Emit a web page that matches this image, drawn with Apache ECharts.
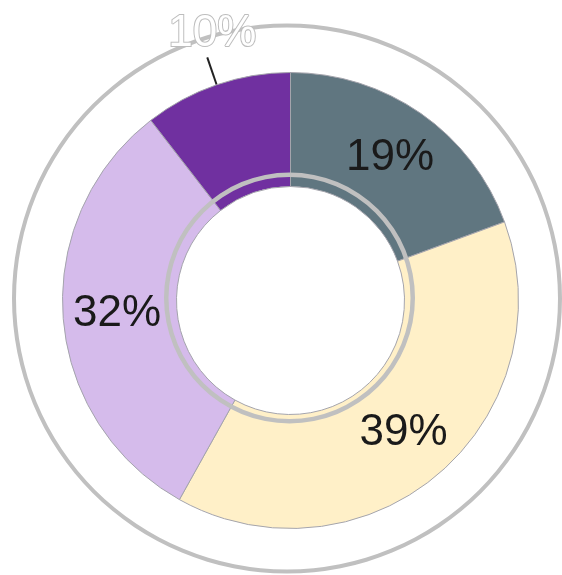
<!DOCTYPE html>
<html>
<head>
<meta charset="utf-8">
<title>Share donut</title>
<script src="https://cdn.jsdelivr.net/npm/echarts@6/dist/echarts.min.js"></script>
<style>
  html, body { margin: 0; padding: 0; background: #fff; }
  #chart { width: 562px; height: 575px; }
</style>
</head>
<body>
<div id="chart"></div>
<script>
// slice data, clockwise from 12 o'clock
const segments = ['Segment A', 'Segment B', 'Segment C', 'Segment D'];
const shares = [19.4, 38.7, 31.4, 10.5];
const shareLabels = ['19%', '39%', '32%', '10%'];
const sliceColors = ['#607680', '#FFF0C8', '#D5BBEB', '#7030A0'];
const outsideIndex = 3; // the small slice gets its label outside
const ringData = [1];   // decorative gray rings

const chart = echarts.init(document.getElementById('chart'));

const donutData = segments.map((name, i) => {
  const item = {
    name: name,
    value: shares[i],
    itemStyle: { color: sliceColors[i] },
  };
  if (i === outsideIndex) {
    item.label = {
      position: 'outside',
      color: '#ffffff',
      textBorderColor: '#bdbdbd',
      textBorderWidth: 2,
    };
    item.labelLine = {
      show: true,
      length: 29,
      length2: 0,
      smooth: false,
      lineStyle: { color: '#222', width: 2 },
    };
  }
  return item;
});

const ringSeries = (radius, center, z) => ({
  type: 'pie',
  silent: true,
  z: z,
  radius: radius,
  center: center,
  label: { show: false },
  labelLine: { show: false },
  itemStyle: { color: '#c0c0c0' },
  data: ringData.map((v) => ({ value: v })),
});

const option = {
  animation: false,
  series: [
    ringSeries([271, 275], [287, 298.5], 1),
    {
      type: 'pie',
      z: 2,
      radius: [114, 228],
      center: [290.5, 300.5],
      startAngle: 90,
      clockwise: true,
      avoidLabelOverlap: false,
      emphasis: { disabled: true },
      itemStyle: { borderColor: '#a4a4ac', borderWidth: 1 },
      label: {
        show: true,
        position: 'inside',
        fontFamily: 'Liberation Sans',
        fontSize: 44,
        color: '#1a1a1a',
        formatter: (p) => shareLabels[p.dataIndex],
      },
      labelLine: { show: false },
      labelLayout: function (p) {
        if (p.dataIndex !== outsideIndex || !p.labelLinePoints) return {};
        const pts = p.labelLinePoints;
        const end = pts[pts.length - 1];
        return {
          x: end[0] + 5,
          y: end[1] - 1,
          align: 'center',
          verticalAlign: 'bottom',
          labelLinePoints: pts,
        };
      },
      data: donutData,
    },
    ringSeries([121, 125.5], [289.5, 298], 3),
  ],
};

chart.setOption(option);
</script>
</body>
</html>
